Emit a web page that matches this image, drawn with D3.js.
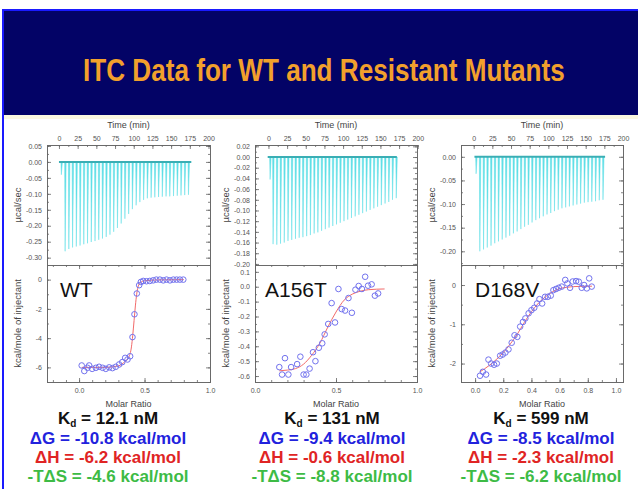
<!DOCTYPE html>
<html>
<head>
<meta charset="utf-8">
<script src="https://cdn.jsdelivr.net/npm/d3@7"></script>
<style>
  body { margin: 0; background: #fff; }
  svg { display: block; }
  text { font-family: "Liberation Sans", Arial, sans-serif; }
</style>
</head>
<body>
<div id="chart"></div>
<script>
// ---------- data ----------
const titleText = "ITC Data for WT and Resistant Mutants";
const sampleNames = ["WT", "A156T", "D168V"];

// raw thermograms: injection time (min) and peak heat rate (µcal/sec)
const wtInjTime = [3, 8, 13, 18, 23, 28, 33, 38, 43, 48, 53, 58, 63, 68, 73, 78, 83, 88, 93, 98, 103, 108, 113, 118, 123, 128, 133, 138, 143, 148, 153, 158, 163, 168, 173];
const wtInjPeak = [-0.040, -0.280, -0.273, -0.268, -0.265, -0.262, -0.258, -0.255, -0.251, -0.248, -0.244, -0.240, -0.235, -0.228, -0.219, -0.207, -0.193, -0.178, -0.163, -0.148, -0.136, -0.126, -0.119, -0.114, -0.112, -0.111, -0.110, -0.109, -0.108, -0.108, -0.107, -0.106, -0.105, -0.104, -0.103];
const wtBaseline = [0, 177];

const a156InjTime = [2, 6, 11, 16, 21, 26, 31, 36, 41, 46, 51, 56, 61, 66, 71, 76, 81, 86, 91, 96, 101, 106, 111, 116, 121, 126, 131, 136, 141, 146, 151, 156, 161, 166, 171];
const a156InjPeak = [-0.042, -0.163, -0.164, -0.162, -0.160, -0.157, -0.155, -0.153, -0.151, -0.150, -0.148, -0.146, -0.143, -0.141, -0.138, -0.135, -0.132, -0.129, -0.126, -0.123, -0.120, -0.117, -0.114, -0.111, -0.108, -0.105, -0.102, -0.099, -0.096, -0.093, -0.090, -0.087, -0.084, -0.080, -0.077];
const a156Baseline = [-1, 172];

const d168InjTime = [3, 8, 13, 18, 23, 28, 33, 38, 43, 48, 53, 58, 63, 68, 73, 78, 83, 88, 93, 98, 103, 108, 113, 118, 123, 128, 133, 138, 143, 148, 153, 158, 163, 168, 173];
const d168InjPeak = [-0.036, -0.200, -0.196, -0.192, -0.188, -0.183, -0.179, -0.175, -0.171, -0.167, -0.162, -0.158, -0.153, -0.148, -0.144, -0.139, -0.134, -0.130, -0.126, -0.122, -0.119, -0.115, -0.112, -0.109, -0.107, -0.105, -0.103, -0.101, -0.099, -0.097, -0.096, -0.095, -0.094, -0.092, -0.091];
const d168Baseline = [1, 176];

// integrated heats: molar ratio vs kcal/mole of injectant
const wtRatio = [0.02, 0.04, 0.064, 0.077, 0.10, 0.128, 0.153, 0.18, 0.204, 0.23, 0.255, 0.28, 0.306, 0.33, 0.352, 0.37, 0.39, 0.408, 0.423, 0.441, 0.459, 0.472, 0.49, 0.515, 0.54, 0.566, 0.59, 0.617, 0.643, 0.668, 0.694, 0.72, 0.745, 0.77, 0.796];
const wtHeat = [-5.87, -6.25, -6.03, -5.87, -6.1, -6.03, -5.96, -6.03, -6.1, -6.0, -6.05, -5.96, -5.8, -5.64, -5.35, -5.46, -5.24, -3.93, -2.37, -0.95, -0.38, -0.16, -0.09, -0.11, -0.09, -0.05, 0, 0, -0.05, 0, -0.05, 0, 0, 0, 0];
const wtFitRatio = [0.02, 0.2, 0.3, 0.35, 0.38, 0.4, 0.41, 0.42, 0.43, 0.44, 0.45, 0.47, 0.5, 0.6, 0.8];
const wtFitHeat = [-6.0, -6.0, -5.9, -5.6, -5.3, -4.6, -3.8, -2.8, -1.8, -1.0, -0.5, -0.2, -0.08, -0.02, 0];

const a156Ratio = [0.15, 0.167, 0.185, 0.206, 0.223, 0.26, 0.28, 0.3, 0.317, 0.337, 0.358, 0.373, 0.394, 0.415, 0.43, 0.452, 0.473, 0.494, 0.515, 0.535, 0.556, 0.577, 0.598, 0.62, 0.64, 0.66, 0.68, 0.698, 0.72, 0.74, 0.76];
const a156Heat = [-0.54, -0.59, -0.48, -0.59, -0.54, -0.52, -0.47, -0.59, -0.59, -0.55, -0.44, -0.50, -0.41, -0.38, -0.32, -0.25, -0.11, -0.24, -0.015, -0.15, -0.16, -0.076, -0.175, -0.02, 0.005, -0.015, 0.067, 0.007, 0.016, -0.06, -0.045];
const a156FitRatio = [0.15, 0.2, 0.25, 0.3, 0.35, 0.4, 0.45, 0.5, 0.55, 0.6, 0.65, 0.7, 0.8];
const a156FitHeat = [-0.565, -0.56, -0.55, -0.52, -0.46, -0.38, -0.27, -0.17, -0.09, -0.05, -0.03, -0.02, -0.015];

const d168Ratio = [0.035, 0.055, 0.078, 0.095, 0.114, 0.135, 0.154, 0.178, 0.196, 0.215, 0.237, 0.26, 0.28, 0.3, 0.32, 0.34, 0.357, 0.38, 0.4, 0.42, 0.44, 0.457, 0.476, 0.497, 0.516, 0.537, 0.556, 0.575, 0.594, 0.615, 0.64, 0.655, 0.674, 0.693, 0.717, 0.736, 0.757, 0.774, 0.793, 0.81, 0.828];
const d168Heat = [-2.31, -2.21, -2.28, -1.9, -2.0, -2.03, -2.0, -1.8, -1.77, -1.72, -1.64, -1.47, -1.28, -1.32, -1.06, -0.94, -0.85, -0.72, -0.64, -0.58, -0.47, -0.36, -0.47, -0.3, -0.3, -0.27, -0.13, -0.1, -0.07, -0.04, 0.13, 0.04, -0.07, 0.09, 0.1, 0.085, -0.07, 0.0, -0.085, 0.17, -0.04];
const d168FitRatio = [0.035, 0.1, 0.15, 0.2, 0.25, 0.3, 0.35, 0.4, 0.45, 0.5, 0.55, 0.6, 0.65, 0.7, 0.83];
const d168FitHeat = [-2.21, -2.05, -1.9, -1.72, -1.5, -1.25, -0.95, -0.68, -0.46, -0.3, -0.17, -0.09, -0.06, -0.04, -0.03];

// tick labels
const timeTicks = [0, 25, 50, 75, 100, 125, 150, 175, 200];
const wtTopTicks = [0.05, 0.00, -0.05, -0.10, -0.15, -0.20, -0.25, -0.30];
const a156TopTicks = [0.02, 0.00, -0.02, -0.04, -0.06, -0.08, -0.10, -0.12, -0.14, -0.16, -0.18, -0.20];
const d168TopTicks = [0.00, -0.05, -0.10, -0.15, -0.20];
const wtBotTicks = [0, -2, -4, -6];
const a156BotTicks = [0.1, 0.0, -0.1, -0.2, -0.3, -0.4, -0.5, -0.6];
const d168BotTicks = [0, -1, -2];
const wtRatioTicks = [0.0, 0.5, 1.0];
const a156RatioTicks = [0.0, 0.5, 1.0];
const d168RatioTicks = [0.0, 0.2, 0.4, 0.6, 0.8, 1.0];

// thermodynamic summary
const kdValues = ["12.1 nM", "131 nM", "599 nM"];
const dGValues = ["-10.8", "-9.4", "-8.5"];
const dHValues = ["-6.2", "-0.6", "-2.3"];
const tdsValues = ["-4.6", "-8.8", "-6.2"];

// ---------- layout ----------
const W = 638, H = 489;
const topY0 = 145, midY = 265, botY1 = 382;

var panels = [
    {left: 47, width: 163, textX: 108, labelX: 60,
     timeDomain: [-16, 202], topDomain: [-0.323, 0.053], topTicks: wtTopTicks, topMinor: 0.025, topFmt: 2,
     ratioDomain: [-0.245, 1.0], ratioTicks: wtRatioTicks, ratioMinor: 0.1,
     botDomain: [-7, 1], botTicks: wtBotTicks, botMinor: 1, botFmt: 0,
     injTime: wtInjTime, injPeak: wtInjPeak, base: wtBaseline,
     ratio: wtRatio, heat: wtHeat, fitRatio: wtFitRatio, fitHeat: wtFitHeat},
    {left: 255, width: 162, textX: 332, labelX: 265,
     timeDomain: [-18, 199], topDomain: [-0.202, 0.0225], topTicks: a156TopTicks, topMinor: 0.01, topFmt: 2,
     ratioDomain: [0, 1.0], ratioTicks: a156RatioTicks, ratioMinor: 0.1,
     botDomain: [-0.64, 0.146], botTicks: a156BotTicks, botMinor: 0.05, botFmt: 1,
     injTime: a156InjTime, injPeak: a156InjPeak, base: a156Baseline,
     ratio: a156Ratio, heat: a156Heat, fitRatio: a156FitRatio, fitHeat: a156FitHeat},
    {left: 461, width: 162, textX: 541, labelX: 475,
     timeDomain: [-17, 200], topDomain: [-0.229, 0.025], topTicks: d168TopTicks, topMinor: 0.025, topFmt: 2,
     ratioDomain: [-0.1, 1.05], ratioTicks: d168RatioTicks, ratioMinor: 0.1,
     botDomain: [-2.47, 0.51], botTicks: d168BotTicks, botMinor: 0.5, botFmt: 0,
     injTime: d168InjTime, injPeak: d168InjPeak, base: d168Baseline,
     ratio: d168Ratio, heat: d168Heat, fitRatio: d168FitRatio, fitHeat: d168FitHeat}
];

var svg = d3.select("#chart").append("svg")
    .attr("width", W)
    .attr("height", H);

// slide background
svg.append("rect").attr("width", W).attr("height", H).attr("fill", "#ffffff");
svg.append("rect").attr("x", 4).attr("y", 11).attr("width", W - 4).attr("height", 104).attr("fill", "#030366");
svg.append("rect").attr("x", 4).attr("y", 115).attr("width", W - 4).attr("height", 4).attr("fill", "#fbf8e0");
svg.append("line").attr("x1", 3).attr("x2", W).attr("y1", 10).attr("y2", 10)
    .attr("stroke", "#1a1aff").attr("stroke-width", 2);
svg.append("line").attr("x1", 3).attr("x2", 3).attr("y1", 9).attr("y2", H)
    .attr("stroke", "#1a1aff").attr("stroke-width", 2);

// title, squeezed horizontally like a narrow bold face
var title = svg.append("text")
    .attr("font-family", "'Liberation Sans', Arial, sans-serif")
    .attr("font-weight", "bold")
    .attr("font-size", "31px")
    .attr("fill", "#f2a02c")
    .text(titleText);
var tw = title.node().getComputedTextLength();
title.attr("transform", "translate(83,81) scale(" + (482 / tw) + ",1)");

function minorTicks(domain, step) {
    let lo = Math.ceil(domain[0] / step - 1e-6), hi = Math.floor(domain[1] / step + 1e-6);
    return d3.range(lo, hi + 1).map(k => +(k * step).toFixed(4));
}

function styleAxis(g) {
    g.select(".domain").remove();
    g.selectAll(".tick line").attr("stroke", "#666").attr("stroke-width", 0.8);
    g.selectAll(".tick text").attr("fill", "#555").attr("font-size", "7px")
        .attr("font-family", "'Liberation Sans', Arial, sans-serif");
}

function drawPanel(p, i) {
    var g = svg.append("g");
    var x0 = p.left, x1 = p.left + p.width;

    var t = d3.scaleLinear().domain(p.timeDomain).range([x0, x1]);
    var yT = d3.scaleLinear().domain(p.topDomain).range([midY, topY0]);
    var mr = d3.scaleLinear().domain(p.ratioDomain).range([x0, x1]);
    var yB = d3.scaleLinear().domain(p.botDomain).range([botY1, midY]);

    // thermogram spikes
    g.append("g").selectAll("path")
        .data(p.injTime)
        .enter()
        .append("path")
            .attr("d", (d, j) => "M" + t(d - 0.4) + "," + yT(0) +
                "L" + t(d + 0.2) + "," + yT(p.injPeak[j]) +
                "L" + t(d + 1.6) + "," + yT(0) + "Z")
            .attr("fill", "#5fdfe6")
            .attr("stroke", "#5fdfe6")
            .attr("stroke-width", 0.5);

    // baseline
    g.append("line")
        .attr("x1", t(p.base[0])).attr("x2", t(p.base[1]))
        .attr("y1", yT(0)).attr("y2", yT(0))
        .attr("stroke", "#3aaeb4")
        .attr("stroke-width", 2);

    // fit line + points
    g.append("path")
        .datum(p.fitRatio)
            .attr("fill", "none")
            .attr("stroke", "#f26a6a")
            .attr("stroke-width", 1)
            .attr("d", d3.line()
                .curve(d3.curveMonotoneX)
                .x(d => mr(d))
                .y((d, j) => yB(p.fitHeat[j])));

    g.append("g").selectAll("circle")
        .data(p.ratio)
        .enter()
        .append("circle")
            .attr("cx", d => mr(d))
            .attr("cy", (d, j) => yB(p.heat[j]))
            .attr("r", 2.8)
            .attr("fill", "none")
            .attr("stroke", "#7272ee")
            .attr("stroke-width", 1);

    // frames
    g.append("rect").attr("x", x0 + 0.5).attr("y", topY0 + 0.5)
        .attr("width", p.width).attr("height", midY - topY0)
        .attr("fill", "none").attr("stroke", "#6a6a6a");
    g.append("rect").attr("x", x0 + 0.5).attr("y", midY + 0.5)
        .attr("width", p.width).attr("height", botY1 - midY)
        .attr("fill", "none").attr("stroke", "#6a6a6a");

    // time axis on top
    g.append("g").attr("transform", "translate(0," + topY0 + ")")
        .call(d3.axisTop(t).tickValues(timeTicks).tickSize(-4).tickPadding(4))
        .call(styleAxis);
    g.append("g").attr("transform", "translate(0," + topY0 + ")")
        .call(d3.axisTop(t).tickValues(minorTicks([0, 200], 12.5)).tickSize(-2).tickFormat(""))
        .call(styleAxis);

    // thermogram y axes
    g.append("g").attr("transform", "translate(" + x0 + ",0)")
        .call(d3.axisLeft(yT).tickValues(p.topTicks).tickSize(-4).tickPadding(5)
            .tickFormat(d => d.toFixed(p.topFmt)))
        .call(styleAxis);
    g.append("g").attr("transform", "translate(" + x0 + ",0)")
        .call(d3.axisLeft(yT).tickValues(minorTicks(p.topDomain, p.topMinor)).tickSize(-2).tickFormat(""))
        .call(styleAxis);
    g.append("g").attr("transform", "translate(" + x1 + ",0)")
        .call(d3.axisRight(yT).tickValues(p.topTicks).tickSize(-4).tickFormat(""))
        .call(styleAxis);
    g.append("g").attr("transform", "translate(" + x1 + ",0)")
        .call(d3.axisRight(yT).tickValues(minorTicks(p.topDomain, p.topMinor)).tickSize(-2).tickFormat(""))
        .call(styleAxis);

    // molar ratio axes
    g.append("g").attr("transform", "translate(0," + botY1 + ")")
        .call(d3.axisBottom(mr).tickValues(p.ratioTicks).tickSize(-4).tickPadding(6)
            .tickFormat(d => d.toFixed(1)))
        .call(styleAxis);
    g.append("g").attr("transform", "translate(0," + botY1 + ")")
        .call(d3.axisBottom(mr).tickValues(minorTicks(p.ratioDomain, p.ratioMinor)).tickSize(-2).tickFormat(""))
        .call(styleAxis);
    g.append("g").attr("transform", "translate(0," + midY + ")")
        .call(d3.axisTop(mr).tickValues(p.ratioTicks).tickSize(-4).tickFormat(""))
        .call(styleAxis);
    g.append("g").attr("transform", "translate(0," + midY + ")")
        .call(d3.axisTop(mr).tickValues(minorTicks(p.ratioDomain, p.ratioMinor)).tickSize(-2).tickFormat(""))
        .call(styleAxis);

    // heat y axes
    g.append("g").attr("transform", "translate(" + x0 + ",0)")
        .call(d3.axisLeft(yB).tickValues(p.botTicks).tickSize(-4).tickPadding(5)
            .tickFormat(d => d.toFixed(p.botFmt)))
        .call(styleAxis);
    g.append("g").attr("transform", "translate(" + x0 + ",0)")
        .call(d3.axisLeft(yB).tickValues(minorTicks(p.botDomain, p.botMinor)).tickSize(-2).tickFormat(""))
        .call(styleAxis);
    g.append("g").attr("transform", "translate(" + x1 + ",0)")
        .call(d3.axisRight(yB).tickValues(p.botTicks).tickSize(-4).tickFormat(""))
        .call(styleAxis);
    g.append("g").attr("transform", "translate(" + x1 + ",0)")
        .call(d3.axisRight(yB).tickValues(minorTicks(p.botDomain, p.botMinor)).tickSize(-2).tickFormat(""))
        .call(styleAxis);

    // axis titles
    var cx = (x0 + x1) / 2;
    g.append("text").attr("x", cx).attr("y", 128).attr("text-anchor", "middle")
        .attr("font-size", "9px").attr("fill", "#444").text("Time (min)");
    g.append("text").attr("x", cx).attr("y", 407).attr("text-anchor", "middle")
        .attr("font-size", "9px").attr("fill", "#444").text("Molar Ratio");
    g.append("text")
        .attr("transform", "translate(" + (x0 - 26) + "," + ((topY0 + midY) / 2) + ") rotate(-90)")
        .attr("text-anchor", "middle").attr("font-size", "9.5px").attr("fill", "#444")
        .text("µcal/sec");
    g.append("text")
        .attr("transform", "translate(" + (x0 - 26) + "," + ((midY + botY1) / 2) + ") rotate(-90)")
        .attr("text-anchor", "middle").attr("font-size", "9.5px").attr("fill", "#444")
        .text("kcal/mole of injectant");

    // sample name
    g.append("text").attr("x", p.labelX).attr("y", 297)
        .attr("font-size", "21px").attr("fill", "#111").text(sampleNames[i]);

    // thermodynamics text
    var kd = g.append("text").attr("x", p.textX).attr("y", 424).attr("text-anchor", "middle")
        .attr("font-size", "17px").attr("font-weight", "bold").attr("fill", "#111");
    kd.append("tspan").text("K");
    kd.append("tspan").attr("dy", 3).attr("font-size", "10px").text("d");
    kd.append("tspan").attr("dy", -3).text(" = " + kdValues[i]);

    g.append("text").attr("x", p.textX).attr("y", 444).attr("text-anchor", "middle")
        .attr("font-size", "17px").attr("font-weight", "bold").attr("fill", "#2222dd")
        .text("ΔG = " + dGValues[i] + " kcal/mol");
    g.append("text").attr("x", p.textX).attr("y", 463).attr("text-anchor", "middle")
        .attr("font-size", "17px").attr("font-weight", "bold").attr("fill", "#e02424")
        .text("ΔH = " + dHValues[i] + " kcal/mol");
    g.append("text").attr("x", p.textX).attr("y", 482).attr("text-anchor", "middle")
        .attr("font-size", "17px").attr("font-weight", "bold").attr("fill", "#3dbb45")
        .text("-TΔS = " + tdsValues[i] + " kcal/mol");
}

panels.forEach(drawPanel);
</script>
</body>
</html>
